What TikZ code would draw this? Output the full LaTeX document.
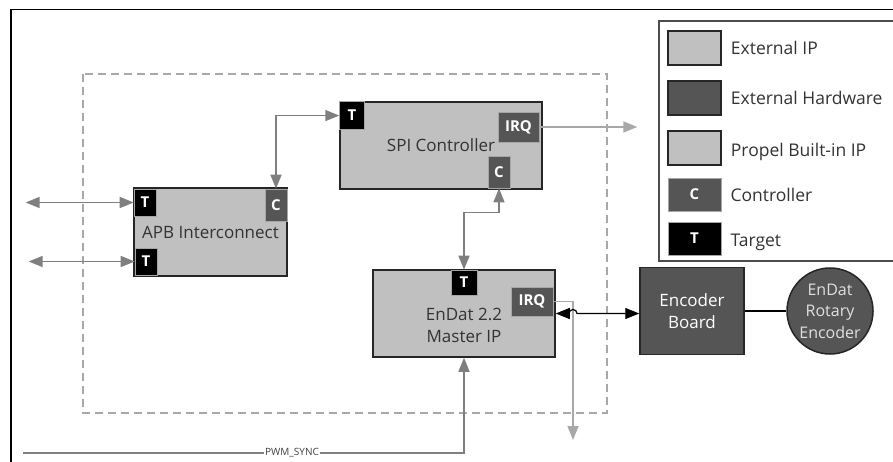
\documentclass[tikz,border=0pt]{standalone}
\usepackage{fontspec}
\setmainfont{Open Sans}
\usetikzlibrary{arrows.meta,positioning}
\definecolor{ipgray}{HTML}{C0C0C0}
\definecolor{hwgray}{HTML}{555555}
\definecolor{wiregray}{HTML}{7F7F7F}
\definecolor{irqgray}{HTML}{A8A8A8}
\tikzset{
    %Define standard arrow tip
    >={Triangle[length=14pt,width=11pt]},
    %Define block size in pixels
    blocksize/.style 2 args={
           minimum width=#1pt,
           minimum height=#2pt},
    %Define style for blocks
    ipblock/.style={
           rectangle,
           draw=black!85, line width=1.5pt,
           fill=ipgray,
           inner sep=0pt,
           font=\fontsize{17}{22}\selectfont,
           text=black!80,
           align=center},
    hwblock/.style={
           ipblock,
           fill=hwgray,
           text=white},
    hwcircle/.style={
           circle,
           draw=black!85, line width=1.5pt,
           fill=hwgray,
           minimum size=86pt,
           inner sep=0pt,
           font=\fontsize{16}{21.5}\selectfont,
           text=white!88!black,
           align=center},
    %Define style for ports
    badge/.style={
           rectangle,
           fill=hwgray,
           draw=black!35, line width=0.6pt,
           inner sep=0pt,
           font=\bfseries\fontsize{15}{16}\selectfont,
           text=white},
    target/.style={
           badge,
           fill=black},
    legendtext/.style={
           inner sep=0pt,
           font=\fontsize{17.5}{20}\selectfont,
           text=black!80},
    % Define wire styles
    bus/.style={
           draw=wiregray,
           line width=1.5pt},
    irq/.style={
           draw=irqgray,
           line width=1.5pt},
    hw/.style={
           draw=black,
           line width=1.2pt},
    boundary/.style={
           draw=irqgray,
           line width=1.2pt,
           dash pattern=on 8pt off 5pt}
}

\begin{document}
\begin{tikzpicture}[x=1pt,y=-1pt]
\useasboundingbox (0,0) rectangle (893,462);

 %frame and subsystem boundary
\draw[line width=1.2pt] (11,470) -- (11,9.5) -- (900,9.5);
\draw[boundary] (83,74) rectangle (607,413);

 %blocks
\node[ipblock, blocksize={202}{87}] (spi) at (441,145.5) {SPI Controller};
\node[ipblock, blocksize={153}{88}] (apb) at (210.5,232) {APB Interconnect};
\node[ipblock, blocksize={182}{87},
      label={[font=\fontsize{17}{22}\selectfont, text=black!80, align=center, yshift=-12pt]center:EnDat 2.2\\Master IP}]
      (endat) at (464,313.5) {};
\node[hwblock, blocksize={104}{87}] (enc) at (692,311) {Encoder\\Board};
\node[hwcircle] (rot) at (830,311) {EnDat\\Rotary\\Encoder};

 %ports
\node[target, blocksize={25}{28}, anchor=north west] (spiT) at (spi.north west) {T};
\node[badge, blocksize={41}{30}] (spiIRQ) at (518.5,127) {IRQ};
\node[badge, blocksize={22}{32}] (spiC) at (499,172) {C};
\node[target, blocksize={22}{27}] (apbT1) at (145,202.5) {T};
\node[badge, blocksize={22}{32}] (apbC) at (276,205) {C};
\node[target, blocksize={22}{27}] (apbT2) at (146,261.5) {T};
\node[target, blocksize={26}{25}] (endT) at (464,282.5) {T};
\node[badge, blocksize={42}{29}] (endIRQ) at (532,301.5) {IRQ};

 %free wire ends
\coordinate (busA) at ([xshift=-108pt]apbT1.west);
\coordinate (busB) at ([xshift=-106pt]apbT2.west);
\coordinate (irqout) at ([xshift=98pt]spiIRQ.east);
\coordinate (irqdrop) at (573,440);
\coordinate (pwm) at (23,453);

 %wires
\draw[bus,<->] (busA) -- (apbT1.west);
\draw[bus,<->] (busB) -- (apbT2.west);
\draw[bus,<->] (spiT.west) -| (apbC.north);
\draw[bus,<->] (spiC.south) -- ++(0,24) -| (endT.north);
\draw[irq,->] (spiIRQ.east) -- (irqout);
\draw[irq,->] (endIRQ.east) -| (irqdrop);
\draw[hw,<->] (endat.east) -- ([xshift=-4pt]endat.east -| irqdrop)
    arc[start angle=180, end angle=0, radius=4pt] -- (enc.west |- endat.east);
\draw[hw] (enc.east) -- (rot.west);
\draw[bus,->] (pwm) -- node[pos=0.61, fill=white, inner sep=1pt,
    font=\fontsize{10}{12}\selectfont, text=black!75] {PWM\_SYNC}
    (pwm -| endat.south) -- (endat.south);

 %legend
\draw[draw=black!70, line width=1.5pt] (659,21) rectangle (900,261);
\node[ipblock, blocksize={53}{34}] (lgExt) at (694.5,48) {};
\node[hwblock, blocksize={53}{34}] (lgHw) at (694.5,98) {};
\node[ipblock, blocksize={53}{34}] (lgBuilt) at (694.5,148) {};
\node[badge, blocksize={53}{33}] (lgC) at (694.5,194.5) {C};
\node[target, blocksize={53}{33}] (lgT) at (694.5,238.5) {T};
\node[legendtext, anchor=west, right=9pt of lgExt] (lgExtTxt) {External IP};
\node[legendtext, anchor=west, right=9pt of lgHw] (lgHwTxt) {External Hardware};
\node[legendtext, anchor=west, right=9pt of lgBuilt, yshift=-4pt] (lgBuiltTxt) {Propel Built-in IP};
\node[legendtext, anchor=west, right=9pt of lgC] (lgCTxt) {Controller};
\node[legendtext, anchor=west, right=9pt of lgT, yshift=-4pt] (lgTTxt) {Target};
\end{tikzpicture}
\end{document}
